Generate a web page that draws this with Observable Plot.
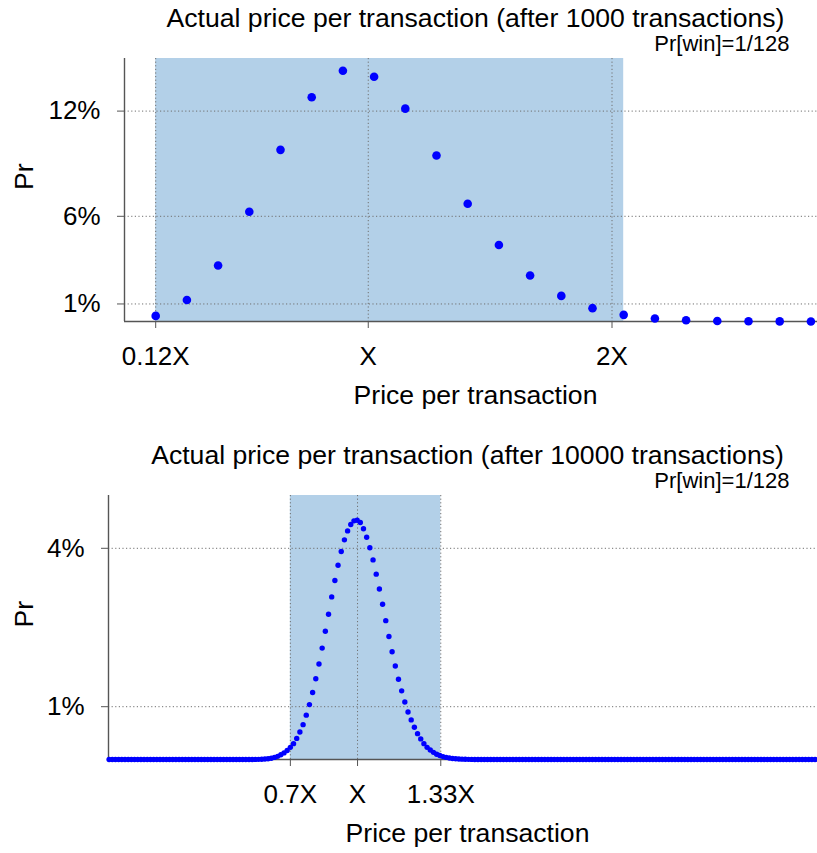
<!DOCTYPE html>
<html><head><meta charset="utf-8">
<script src="https://cdn.jsdelivr.net/npm/d3@7"></script>
<script src="https://cdn.jsdelivr.net/npm/@observablehq/plot@0.6"></script>
<style>
html,body{margin:0;padding:0;background:#fff;overflow:hidden;width:817px;height:853px;}
#chart{width:817px;height:853px;overflow:hidden;}
#chart svg{display:block;max-width:none !important;width:826px !important;}
</style></head><body><div id="chart"></div>
<script>
const FONT = "'Liberation Sans', Arial, Helvetica, sans-serif";
const subtitle = "Pr[win]=1/128";
const xLabel = "Price per transaction";
const yLabel = "Pr";

// ---- Panel A: after 1000 transactions (x = number of wins, y = percent)
const titleA = "Actual price per transaction (after 1000 transactions)";
const winsStartA = 1;
const prA = [0.32, 1.23, 3.19, 6.26, 9.79, 12.79, 14.30, 13.96, 12.14, 9.47, 6.72,
             4.36, 2.62, 1.46, 0.76, 0.38, 0.17, 0.07, 0.03, 0.01, 0.005, 0.002];
const xTicksA = [1, 7.8125, 15.625];
const xTickLabelsA = ["0.12X", "X", "2X"];
const yTicksA = [1, 6, 12];
const shadeA = [1, 16];

// ---- Panel B: after 10000 transactions
const titleB = "Actual price per transaction (after 10000 transactions)";
const winsStartB = 0;
const prB = [
  0,0,0,0,0,0,0,0,0,0, 0,0,0,0,0,0,0,0,0,0, 0,0,0,0,0,0,0,0,0,0,
  0,0,0,0,0,0,0,0,0,0, 0,0,0,0,0,0.001,0.002,0.003,0.006,0.01,
  0.015,0.025,0.04,0.06,0.09,0.125,0.17,0.23,0.30,0.40,
  0.52,0.66,0.84,1.04,1.27,1.53,1.81,2.11,2.43,2.75,
  3.08,3.39,3.68,3.94,4.16,4.33,4.45,4.52,4.53,4.49,
  4.37,4.21,4.01,3.78,3.51,3.23,2.94,2.63,2.33,2.04,
  1.77,1.52,1.30,1.09,0.90,0.75,0.61,0.49,0.39,0.30,
  0.23,0.18,0.135,0.10,0.075,0.055,0.04,0.028,0.02,0.014,
  0.01,0.007,0.005,0.003,0.002,0.001,0,0,0,0,
  0,0,0,0,0,0,0,0,0,0, 0,0,0,0,0,0,0,0,0,0, 0,0,0,0,0,0,0,0,0,0,
  0,0,0,0,0,0,0,0,0,0, 0,0,0,0,0,0,0,0,0,0, 0,0,0,0,0,0,0,0,0,0,
  0,0,0,0,0,0,0,0,0,0, 0,0,0,0,0,0,0,0,0,0, 0,0,0,0,0,0,0,0,0,0,
  0,0,0,0,0,0,0,0,0,0, 0,0,0,0,0,0
];
const xTicksB = [57, 78.125, 104.3];
const xTickLabelsB = ["0.7X", "X", "1.33X"];
const yTicksB = [1, 4];
const shadeB = [57, 104.3];

const SHADE = "#b3d0e8", GRID = "#707070", AXIS = "#555555", DOT = "#0000ff";

function panel({title, start, pr, xTicks, xTickLabels, yTicks, shade, xDomain, yDomain,
                height, marginTop, marginBottom, marginLeft, r}) {
  const data = pr.map((v, i) => ({k: start + i, p: v}));
  const lab = new Map(xTicks.map((t, i) => [t, xTickLabels[i]]));
  return Plot.plot({
    width: 826, height, marginTop, marginBottom, marginLeft, marginRight: 0,
    style: {fontFamily: FONT, fontSize: "26px", color: "black", background: "white",
            overflow: "visible", maxWidth: "none"},
    x: {domain: xDomain},
    y: {domain: yDomain},
    marks: [
      Plot.rect([shade], {x1: d => d[0], x2: d => d[1], fill: SHADE}),
      Plot.gridY(yTicks, {stroke: GRID, strokeOpacity: 1, strokeDasharray: "1.2,2.4"}),
      Plot.gridX(xTicks, {stroke: GRID, strokeOpacity: 1, strokeDasharray: "1.2,2.4"}),
      Plot.ruleX([xDomain[0]], {stroke: AXIS, strokeWidth: 1.4}),
      Plot.ruleY([0], {stroke: AXIS, strokeWidth: 1.4}),
      Plot.axisY(yTicks, {tickSize: 7, tickPadding: 17, tickFormat: d => d + "%", stroke: AXIS,
                          fill: "black", fontSize: 26, label: null}),
      Plot.axisX(xTicks, {tickSize: 7, tickPadding: 18, tickFormat: d => lab.get(d), stroke: AXIS,
                          fill: "black", fontSize: 26, label: null}),
      Plot.dot(data, {x: "k", y: "p", r, fill: DOT, stroke: null}),
      Plot.text([title], {frameAnchor: "top", lineAnchor: "middle", dy: -39.6, fontSize: 26.6, fill: "black"}),
      Plot.text([subtitle], {frameAnchor: "top-right", lineAnchor: "middle", dx: -37, dy: -14.5,
                             textAnchor: "end", fontSize: 22, fill: "black"}),
      Plot.text([yLabel], {frameAnchor: "left", lineAnchor: "middle", dx: -(marginLeft - 24.4), rotate: -90,
                           fontSize: 26.6, fill: "black"}),
      Plot.text([xLabel], {frameAnchor: "bottom", lineAnchor: "middle", dy: 73.7, fontSize: 26.6, fill: "black"})
    ]
  });
}

const chart = document.getElementById("chart");
chart.append(panel({
  title: titleA, start: winsStartA, pr: prA, xTicks: xTicksA, xTickLabels: xTickLabelsA,
  yTicks: yTicksA, shade: shadeA, xDomain: [0, 22.5], yDomain: [0, 15],
  height: 430, marginTop: 58, marginBottom: 109, marginLeft: 124, r: 4.3
}));
chart.append(panel({
  title: titleB, start: winsStartB, pr: prB, xTicks: xTicksB, xTickLabels: xTickLabelsB,
  yTicks: yTicksB, shade: shadeB, xDomain: [-0.19, 225.6], yDomain: [0, 5],
  height: 423, marginTop: 65, marginBottom: 94, marginLeft: 108, r: 2.7
}));
</script></body></html>
